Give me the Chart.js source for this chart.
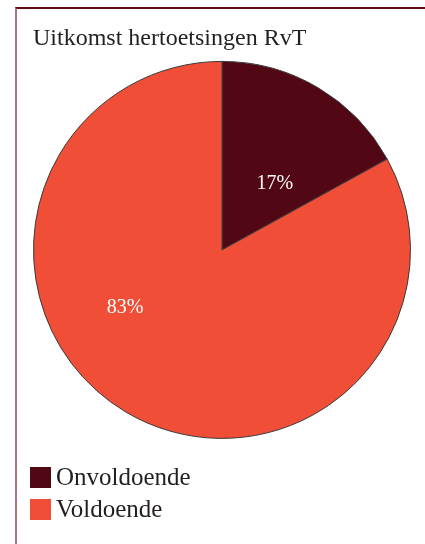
<!DOCTYPE html>
<html>
<head>
<meta charset="utf-8">
<script src="https://cdn.jsdelivr.net/npm/chart.js@4"></script>
<style>
  html, body { margin: 0; padding: 0; background: #fff; }
  #frame {
    position: absolute; left: 15px; top: 7px; width: 420px; height: 560px;
    border-top: 2px solid #5c0a14; border-left: 2px solid #a8777c;
  }
  #myChart { position: absolute; left: 0; top: 0; }
</style>
</head>
<body>
<div id="frame"></div>
<canvas id="myChart" width="425" height="544"></canvas>
<script>
const categories = ["Onvoldoende", "Voldoende"];
const values = [17, 83];
const valueLabels = ["17%", "83%"];
const colors = ["#520814", "#f04e37"];

// percentage labels inside the slices (angle in degrees clockwise from top, dist as part of radius)
const sliceLabels = {
    id: 'sliceLabels',
    afterDatasetsDraw(chart, args, opts) {
        const ctx = chart.ctx;
        const meta = chart.getDatasetMeta(0);
        ctx.save();
        ctx.font = '20px "Liberation Serif"';
        ctx.fillStyle = '#ffffff';
        ctx.textAlign = 'center';
        ctx.textBaseline = 'middle';
        meta.data.forEach((arc, i) => {
            const p = opts.spots[i];
            const a = (p.angle - 90) * Math.PI / 180;
            const d = p.dist * arc.outerRadius;
            ctx.fillText(valueLabels[i], arc.x + d * Math.cos(a), arc.y + d * Math.sin(a));
        });
        ctx.restore();
    }
};

// legend stacked under the pie, one item per line
const stackedLegend = {
    id: 'stackedLegend',
    afterDraw(chart) {
        const ctx = chart.ctx;
        ctx.save();
        ctx.font = '25px "Liberation Serif"';
        ctx.textBaseline = 'middle';
        categories.forEach((name, i) => {
            const y = 467 + i * 32;
            ctx.fillStyle = colors[i];
            ctx.fillRect(30, y, 21, 21);
            ctx.fillStyle = '#231f20';
            ctx.fillText(name, 56, y + 11);
        });
        ctx.restore();
    }
};

const myChart = new Chart(
    document.getElementById('myChart'),
    {
        type: 'pie',
        data: {
            labels: categories,
            datasets: [{
                data: values,
                backgroundColor: colors,
                borderColor: '#3a3a3a',
                borderWidth: 1
            }]
        },
        options: {
            responsive: false,
            animation: false,
            layout: {
                padding: { left: 33, right: 14, top: 0, bottom: 105 }
            },
            plugins: {
                title: {
                    display: true,
                    text: 'Uitkomst hertoetsingen RvT',
                    align: 'start',
                    color: '#231f20',
                    font: { family: 'Liberation Serif', size: 24, weight: 'normal', lineHeight: 1.2 },
                    padding: { top: 24, bottom: 8 }
                },
                legend: { display: false },
                tooltip: { enabled: false },
                sliceLabels: {
                    spots: [{ angle: 38.8, dist: 0.448 }, { angle: 239, dist: 0.6 }]
                }
            }
        },
        plugins: [sliceLabels, stackedLegend]
    });
</script>
</body>
</html>
